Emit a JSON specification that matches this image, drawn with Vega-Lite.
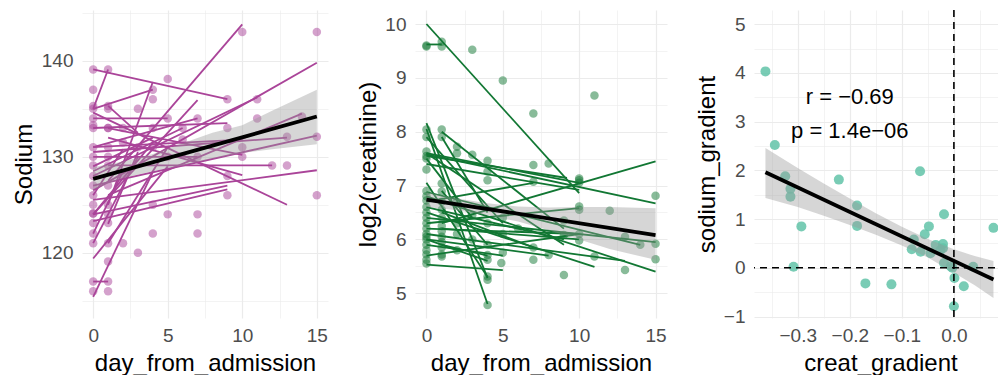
{
  "$schema": "https://vega.github.io/schema/vega-lite/v6.json",
  "padding": {"left": 12, "top": 3, "right": 0, "bottom": 0},
  "spacing": 28,
  "config": {
    "view": {"stroke": null},
    "font": "Liberation Sans",
    "axis": {
      "domain": false, "ticks": false, "gridColor": "#EBEBEB",
      "labelColor": "#4D4D4D", "labelFontSize": 19, "labelFont": "Liberation Sans",
      "titleFontSize": 24, "titleFontWeight": "normal", "titleColor": "#000000", "titleFont": "Liberation Sans",
      "labelPadding": 9, "titlePadding": 5, "labelFlush": false, "labelOverlap": false
    },
    "axisX": {"labelPadding": 8, "titlePadding": 6}
  },
  "datasets": {
    "p1pts": [
      {"day":0,"v":139.1},{"day":0,"v":137.0},{"day":0,"v":135.0},{"day":0,"v":135.3},{"day":0,"v":134.0},{"day":0,"v":133.0},{"day":0,"v":133.3},{"day":0,"v":131.0},{"day":0,"v":130.0},{"day":0,"v":129.1},{"day":0,"v":128.0},{"day":0,"v":127.0},{"day":0,"v":126.0},{"day":0,"v":125.0},{"day":0,"v":124.1},{"day":0,"v":124.1},{"day":0,"v":123.1},{"day":0,"v":122.0},{"day":0,"v":121.0},{"day":0,"v":117.0},{"day":0,"v":116.0},
      {"day":1,"v":139.1},{"day":1,"v":135.0},{"day":1,"v":135.3},{"day":1,"v":133.0},{"day":1,"v":133.0},{"day":1,"v":131.0},{"day":1,"v":130.0},{"day":1,"v":129.1},{"day":1,"v":127.0},{"day":1,"v":125.0},{"day":1,"v":124.0},{"day":1,"v":123.1},{"day":1,"v":121.0},{"day":1,"v":119.1},{"day":1,"v":117.0},{"day":1,"v":116.0},
      {"day":2,"v":133.0},{"day":2,"v":131.5},{"day":2,"v":128.0},{"day":2,"v":121.0},
      {"day":3,"v":135.0},{"day":3,"v":131.0},{"day":3,"v":120.0},
      {"day":4,"v":137.0},{"day":4,"v":136.0},{"day":4,"v":133.0},{"day":4,"v":131.0},{"day":4,"v":125.0},{"day":4,"v":122.0},
      {"day":5,"v":138.1},{"day":5,"v":134.0},{"day":5,"v":130.0},{"day":5,"v":124.0},
      {"day":6,"v":133.0},{"day":6,"v":131.8},
      {"day":7,"v":134.0},{"day":7,"v":130.0},{"day":7,"v":124.0},{"day":7,"v":122.0},
      {"day":9,"v":136.0},{"day":9,"v":133.0},{"day":9,"v":128.0},{"day":9,"v":126.0},
      {"day":10,"v":143.0},{"day":10,"v":131.0},{"day":10,"v":130.0},
      {"day":11,"v":136.0},{"day":11,"v":134.0},
      {"day":12,"v":129.1},
      {"day":13,"v":129.1},{"day":13,"v":132.1},
      {"day":14,"v":134.2},
      {"day":15,"v":143.0},{"day":15,"v":132.1},{"day":15,"v":126.0}
    ],
    "p1seg": [
      {"x1":0,"y1":139.1,"x2":9,"y2":136.0},{"x1":0,"y1":135.0,"x2":1,"y2":139.1},{"x1":0,"y1":135.0,"x2":4,"y2":137.0},
      {"x1":0,"y1":134.0,"x2":5,"y2":134.0},{"x1":1,"y1":127.5,"x2":10,"y2":143.8},{"x1":0,"y1":126.5,"x2":15,"y2":139.8},
      {"x1":0,"y1":128.0,"x2":11,"y2":136.2},{"x1":1,"y1":126.0,"x2":14,"y2":134.5},{"x1":0,"y1":127.0,"x2":15,"y2":132.2},
      {"x1":0,"y1":134.6,"x2":13,"y2":125.0},{"x1":0,"y1":125.5,"x2":15,"y2":128.6},{"x1":0,"y1":124.0,"x2":9,"y2":127.0},
      {"x1":0,"y1":123.3,"x2":9,"y2":126.6},{"x1":0,"y1":115.4,"x2":4,"y2":128.4},{"x1":0,"y1":119.4,"x2":5,"y2":129.0},
      {"x1":0,"y1":117.0,"x2":1,"y2":117.0},{"x1":0,"y1":121.0,"x2":3,"y2":130.0},{"x1":0,"y1":124.0,"x2":4,"y2":131.5},
      {"x1":1,"y1":121.0,"x2":5,"y2":131.0},{"x1":0,"y1":131.0,"x2":10,"y2":131.8},{"x1":0,"y1":133.0,"x2":9,"y2":133.5},
      {"x1":1,"y1":133.0,"x2":10,"y2":130.2},{"x1":0,"y1":130.0,"x2":7,"y2":130.0},{"x1":1,"y1":129.1,"x2":12,"y2":129.1},
      {"x1":0,"y1":129.0,"x2":4,"y2":132.0},{"x1":0,"y1":131.0,"x2":7,"y2":134.0},{"x1":1,"y1":132.0,"x2":10,"y2":128.1},
      {"x1":0,"y1":122.0,"x2":2,"y2":128.5},{"x1":1,"y1":123.0,"x2":3,"y2":130.5},{"x1":0,"y1":124.0,"x2":7,"y2":135.9},
      {"x1":1,"y1":125.0,"x2":4,"y2":137.8},{"x1":0,"y1":128.5,"x2":6,"y2":133.0},{"x1":0,"y1":126.0,"x2":2,"y2":130.8},
      {"x1":1,"y1":135.3,"x2":3,"y2":132.5},{"x1":0,"y1":130.5,"x2":13,"y2":132.0}
    ],
    "p1band": [
      {"day":0,"lo":126.6,"hi":128.9},{"day":2,"lo":127.8,"hi":129.5},{"day":4,"lo":128.5,"hi":130.3},{"day":6,"lo":129.1,"hi":131.4},
      {"day":8,"lo":129.8,"hi":132.5},{"day":10,"lo":130.4,"hi":133.3},{"day":12,"lo":130.8,"hi":134.8},{"day":15,"lo":131.3,"hi":137.0}
    ],
    "p1fit": [{"day":0,"v":127.7},{"day":15,"v":134.2}],
    "p2pts": [
      {"day":0,"v":9.6},{"day":0,"v":9.58},{"day":0,"v":8.04},{"day":0,"v":7.9},{"day":0,"v":7.63},{"day":0,"v":7.55},{"day":0,"v":7.5},{"day":0,"v":7.3},{"day":0,"v":6.9},{"day":0,"v":6.8},{"day":0,"v":6.72},{"day":0,"v":6.6},{"day":0,"v":6.5},{"day":0,"v":6.4},{"day":0,"v":6.3},{"day":0,"v":6.2},{"day":0,"v":6.1},{"day":0,"v":6.05},{"day":0,"v":6.0},{"day":0,"v":5.9},{"day":0,"v":5.8},{"day":0,"v":5.72},{"day":0,"v":5.62},{"day":0,"v":5.55},
      {"day":1,"v":9.67},{"day":1,"v":9.58},{"day":1,"v":8.04},{"day":1,"v":7.9},{"day":1,"v":7.04},{"day":1,"v":6.89},{"day":1,"v":6.7},{"day":1,"v":6.55},{"day":1,"v":6.4},{"day":1,"v":6.25},{"day":1,"v":6.15},{"day":1,"v":6.05},{"day":1,"v":5.95},{"day":1,"v":5.85},{"day":1,"v":5.72},{"day":1,"v":5.68},
      {"day":2,"v":7.72},{"day":2,"v":7.6},{"day":2,"v":6.7},{"day":2,"v":6.3},{"day":2,"v":6.1},{"day":2,"v":5.8},
      {"day":3,"v":9.52},{"day":3,"v":7.57},{"day":3,"v":6.45},{"day":3,"v":6.0},
      {"day":4,"v":7.46},{"day":4,"v":7.26},{"day":4,"v":7.1},{"day":4,"v":6.3},{"day":4,"v":5.9},{"day":4,"v":5.71},{"day":4,"v":5.62},{"day":4,"v":5.31},{"day":4,"v":5.25},{"day":4,"v":4.78},
      {"day":5,"v":8.95},{"day":5,"v":6.4},{"day":5,"v":6.1},{"day":5,"v":5.75},{"day":4.9,"v":5.56},
      {"day":6,"v":6.2},
      {"day":7,"v":8.34},{"day":7,"v":7.38},{"day":7,"v":7.07},{"day":7,"v":5.85},{"day":7,"v":5.62},
      {"day":8,"v":7.41},{"day":8,"v":5.71},
      {"day":9,"v":6.35},{"day":9,"v":6.08},{"day":9,"v":5.34},
      {"day":10,"v":7.13},{"day":10,"v":7.1},{"day":10,"v":7.05},{"day":10,"v":6.61},{"day":10,"v":6.55},{"day":10,"v":6.1},{"day":10,"v":5.98},
      {"day":11,"v":8.67},{"day":11,"v":5.68},
      {"day":12,"v":6.53},
      {"day":13,"v":6.05},{"day":13,"v":5.43},
      {"day":14,"v":5.9},
      {"day":15,"v":6.81},{"day":15,"v":5.92},{"day":15,"v":5.63}
    ],
    "p2seg": [
      {"x1":0,"y1":10.0,"x2":10,"y2":6.86},{"x1":0,"y1":9.62,"x2":1,"y2":9.62},{"x1":0,"y1":8.16,"x2":4,"y2":5.28},
      {"x1":0,"y1":8.05,"x2":4,"y2":4.8},{"x1":0,"y1":7.6,"x2":10,"y2":7.05},{"x1":0,"y1":7.55,"x2":9.2,"y2":7.14},
      {"x1":1,"y1":6.3,"x2":15,"y2":7.45},{"x1":0,"y1":7.58,"x2":15,"y2":6.67},{"x1":0,"y1":6.88,"x2":14,"y2":5.9},
      {"x1":0,"y1":6.8,"x2":15,"y2":5.4},{"x1":0,"y1":6.5,"x2":11,"y2":5.49},{"x1":0,"y1":5.53,"x2":5,"y2":5.43},
      {"x1":0,"y1":6.3,"x2":10,"y2":6.58},{"x1":0,"y1":7.05,"x2":4,"y2":5.3},{"x1":1,"y1":6.9,"x2":4,"y2":5.9},
      {"x1":0,"y1":6.6,"x2":9,"y2":6.0},{"x1":0,"y1":6.2,"x2":10,"y2":6.1},{"x1":0,"y1":6.1,"x2":13,"y2":5.6},
      {"x1":0,"y1":6.0,"x2":8,"y2":5.7},{"x1":0,"y1":5.9,"x2":5,"y2":5.7},{"x1":1,"y1":6.5,"x2":7,"y2":5.85},
      {"x1":0,"y1":7.6,"x2":9,"y2":5.9},{"x1":1,"y1":8.0,"x2":9,"y2":6.2},{"x1":0,"y1":7.9,"x2":5,"y2":6.3},
      {"x1":0,"y1":6.0,"x2":4,"y2":5.6},{"x1":1,"y1":6.2,"x2":10,"y2":6.0},{"x1":0,"y1":5.7,"x2":10,"y2":6.1},
      {"x1":0,"y1":6.7,"x2":7,"y2":7.05},{"x1":0,"y1":7.4,"x2":10,"y2":6.92},{"x1":0,"y1":7.5,"x2":3,"y2":6.4},
      {"x1":1,"y1":7.9,"x2":4,"y2":6.5},{"x1":0,"y1":6.4,"x2":15,"y2":5.95},{"x1":1,"y1":5.9,"x2":4,"y2":5.7}
    ],
    "p2band": [
      {"day":0,"lo":6.60,"hi":6.88},{"day":2,"lo":6.54,"hi":6.76},{"day":4,"lo":6.45,"hi":6.67},{"day":6,"lo":6.33,"hi":6.61},
      {"day":8,"lo":6.17,"hi":6.59},{"day":10,"lo":6.0,"hi":6.6},{"day":12,"lo":5.82,"hi":6.6},{"day":15,"lo":5.62,"hi":6.58}
    ],
    "p2fit": [{"day":0,"v":6.74},{"day":15,"v":6.08}],
    "p3pts": [
      {"cg":-0.362,"sg":4.03},{"cg":-0.344,"sg":2.52},{"cg":-0.324,"sg":1.88},{"cg":-0.314,"sg":1.62},{"cg":-0.314,"sg":1.46},
      {"cg":-0.293,"sg":0.85},{"cg":-0.308,"sg":0.02},{"cg":-0.221,"sg":1.81},{"cg":-0.186,"sg":1.28},{"cg":-0.186,"sg":0.86},
      {"cg":-0.170,"sg":-0.32},{"cg":-0.120,"sg":-0.34},{"cg":-0.065,"sg":1.98},{"cg":-0.019,"sg":1.10},{"cg":-0.048,"sg":0.85},
      {"cg":-0.056,"sg":0.69},{"cg":-0.077,"sg":0.58},{"cg":-0.081,"sg":0.38},{"cg":-0.064,"sg":0.33},{"cg":-0.045,"sg":0.30},
      {"cg":-0.035,"sg":0.47},{"cg":-0.021,"sg":0.49},{"cg":-0.021,"sg":0.40},{"cg":-0.026,"sg":0.36},{"cg":-0.019,"sg":0.10},
      {"cg":-0.006,"sg":0.03},{"cg":0.001,"sg":-0.21},{"cg":0.019,"sg":-0.38},{"cg":0.037,"sg":0.02},{"cg":0.076,"sg":0.82},
      {"cg":0.0,"sg":-0.79},{"cg":-0.003,"sg":0.0}
    ],
    "p3band": [
      {"cg":-0.362,"lo":1.43,"hi":2.46},{"cg":-0.3,"lo":1.25,"hi":2.05},{"cg":-0.25,"lo":1.07,"hi":1.73},{"cg":-0.2,"lo":0.88,"hi":1.42},
      {"cg":-0.15,"lo":0.68,"hi":1.12},{"cg":-0.1,"lo":0.46,"hi":0.84},{"cg":-0.05,"lo":0.21,"hi":0.59},{"cg":0.0,"lo":-0.10,"hi":0.38},
      {"cg":0.04,"lo":-0.36,"hi":0.24},{"cg":0.076,"lo":-0.62,"hi":0.14}
    ],
    "p3fit": [{"cg":-0.362,"sg":1.96},{"cg":0.076,"sg":-0.24}],
    "p3text": [{"cg":-0.2,"sg":3.5,"label":"r = −0.69"},{"cg":-0.2,"sg":2.8,"label":"p = 1.4e−06"}],
    "zero": [{"v":0}]
  },
  "hconcat": [
    {
      "width": 246, "height": 308,
      "layer": [
        {"data": {"name": "p1pts"}, "mark": {"type": "circle", "size": 72, "opacity": 0.5, "color": "#AA4499", "clip": true},
         "encoding": {
           "x": {"field": "day", "type": "quantitative", "title": "day_from_admission",
                 "scale": {"domain": [-0.75, 15.75], "nice": false, "zero": false},
                 "axis": {"values": [0, 2.5, 5, 7.5, 10, 12.5, 15], "tickCount": 40, "format": ".0f", "labelExpr": "datum.value % 5 == 0 ? datum.label : ''",
                          "gridWidth": {"condition": {"test": "datum.value % 5 != 0", "value": 0.6}, "value": 1.2}}},
           "y": {"field": "v", "type": "quantitative", "title": "Sodium",
                 "scale": {"domain": [113.2, 145.3], "nice": false, "zero": false},
                 "axis": {"values": [115, 120, 125, 130, 135, 140, 145], "tickCount": 40, "format": ".0f", "labelExpr": "datum.value % 10 == 0 ? datum.label : ''",
                          "minExtent": 41, "maxExtent": 41,
                          "gridWidth": {"condition": {"test": "datum.value % 10 != 0", "value": 0.6}, "value": 1.2}}}
         }},
        {"data": {"name": "p1seg"}, "mark": {"type": "rule", "color": "#AA4499", "strokeWidth": 1.8, "clip": true},
         "encoding": {
           "x": {"field": "x1", "type": "quantitative", "title": "day_from_admission"},
           "y": {"field": "y1", "type": "quantitative", "title": "Sodium"},
           "x2": {"field": "x2"}, "y2": {"field": "y2"}
         }},
        {"data": {"name": "p1band"}, "mark": {"type": "area", "color": "#999999", "opacity": 0.4, "clip": true},
         "encoding": {
           "x": {"field": "day", "type": "quantitative", "title": "day_from_admission"},
           "y": {"field": "lo", "type": "quantitative", "title": "Sodium"},
           "y2": {"field": "hi"}
         }},
        {"data": {"name": "p1fit"}, "mark": {"type": "line", "color": "#000000", "strokeWidth": 3.8, "clip": true},
         "encoding": {
           "x": {"field": "day", "type": "quantitative", "title": "day_from_admission"},
           "y": {"field": "v", "type": "quantitative", "title": "Sodium"}
         }}
      ]
    },
    {
      "width": 252, "height": 308,
      "layer": [
        {"data": {"name": "p2pts"}, "mark": {"type": "circle", "size": 72, "opacity": 0.5, "color": "#117733", "clip": true},
         "encoding": {
           "x": {"field": "day", "type": "quantitative", "title": "day_from_admission",
                 "scale": {"domain": [-0.75, 15.75], "nice": false, "zero": false},
                 "axis": {"values": [0, 2.5, 5, 7.5, 10, 12.5, 15], "tickCount": 40, "format": ".0f", "labelExpr": "datum.value % 5 == 0 ? datum.label : ''",
                          "gridWidth": {"condition": {"test": "datum.value % 5 != 0", "value": 0.6}, "value": 1.2}}},
           "y": {"field": "v", "type": "quantitative", "title": "log2(creatinine)",
                 "scale": {"domain": [4.54, 10.26], "nice": false, "zero": false},
                 "axis": {"values": [5, 5.5, 6, 6.5, 7, 7.5, 8, 8.5, 9, 9.5, 10], "tickCount": 40, "format": ".0f", "labelExpr": "datum.value % 1 == 0 ? datum.label : ''",
                          "minExtent": 30, "maxExtent": 30,
                          "gridWidth": {"condition": {"test": "datum.value % 1 != 0", "value": 0.6}, "value": 1.2}}}
         }},
        {"data": {"name": "p2seg"}, "mark": {"type": "rule", "color": "#117733", "strokeWidth": 1.8, "clip": true},
         "encoding": {
           "x": {"field": "x1", "type": "quantitative", "title": "day_from_admission"},
           "y": {"field": "y1", "type": "quantitative", "title": "log2(creatinine)"},
           "x2": {"field": "x2"}, "y2": {"field": "y2"}
         }},
        {"data": {"name": "p2band"}, "mark": {"type": "area", "color": "#999999", "opacity": 0.4, "clip": true},
         "encoding": {
           "x": {"field": "day", "type": "quantitative", "title": "day_from_admission"},
           "y": {"field": "lo", "type": "quantitative", "title": "log2(creatinine)"},
           "y2": {"field": "hi"}
         }},
        {"data": {"name": "p2fit"}, "mark": {"type": "line", "color": "#000000", "strokeWidth": 3.8, "clip": true},
         "encoding": {
           "x": {"field": "day", "type": "quantitative", "title": "day_from_admission"},
           "y": {"field": "v", "type": "quantitative", "title": "log2(creatinine)"}
         }}
      ]
    },
    {
      "width": 253, "height": 308,
      "layer": [
        {"data": {"name": "p3pts"}, "mark": {"type": "circle", "size": 100, "opacity": 0.85, "color": "#62C3A8", "clip": true},
         "encoding": {
           "x": {"field": "cg", "type": "quantitative", "title": "creat_gradient",
                 "scale": {"domain": [-0.384, 0.102], "nice": false, "zero": false},
                 "axis": {"values": [-0.35, -0.3, -0.25, -0.2, -0.15, -0.1, -0.05, 0, 0.05], "tickCount": 40, "format": ".1f",
                          "labelExpr": "indexof([-0.3, -0.2, -0.1, 0], datum.value) >= 0 ? datum.label : ''",
                          "gridWidth": {"condition": {"test": "indexof([-0.3, -0.2, -0.1, 0], datum.value) < 0", "value": 0.6}, "value": 1.2}}},
           "y": {"field": "sg", "type": "quantitative", "title": "sodium_gradient",
                 "scale": {"domain": [-1.03, 5.29], "nice": false, "zero": false},
                 "axis": {"values": [-1, -0.5, 0, 0.5, 1, 1.5, 2, 2.5, 3, 3.5, 4, 4.5, 5], "tickCount": 40, "format": ".0f", "labelExpr": "datum.value % 1 == 0 ? datum.label : ''",
                          "minExtent": 30, "maxExtent": 30,
                          "gridWidth": {"condition": {"test": "datum.value % 1 != 0", "value": 0.6}, "value": 1.2}}}
         }},
        {"data": {"name": "p3band"}, "mark": {"type": "area", "color": "#999999", "opacity": 0.4, "clip": true},
         "encoding": {
           "x": {"field": "cg", "type": "quantitative", "title": "creat_gradient"},
           "y": {"field": "lo", "type": "quantitative", "title": "sodium_gradient"},
           "y2": {"field": "hi"}
         }},
        {"data": {"name": "p3fit"}, "mark": {"type": "line", "color": "#000000", "strokeWidth": 3.8, "clip": true},
         "encoding": {
           "x": {"field": "cg", "type": "quantitative", "title": "creat_gradient"},
           "y": {"field": "sg", "type": "quantitative", "title": "sodium_gradient"}
         }},
        {"data": {"name": "zero"}, "mark": {"type": "rule", "color": "#000000", "strokeWidth": 1.6, "strokeDash": [7, 5], "clip": true},
         "encoding": {"x": {"field": "v", "type": "quantitative", "title": "creat_gradient"}}},
        {"data": {"name": "zero"}, "mark": {"type": "rule", "color": "#000000", "strokeWidth": 1.6, "strokeDash": [7, 5], "clip": true},
         "encoding": {"y": {"field": "v", "type": "quantitative", "title": "sodium_gradient"}}},
        {"data": {"name": "p3text"}, "mark": {"type": "text", "fontSize": 22, "color": "#000000", "align": "center", "baseline": "middle", "font": "Liberation Sans"},
         "encoding": {
           "x": {"field": "cg", "type": "quantitative", "title": "creat_gradient"},
           "y": {"field": "sg", "type": "quantitative", "title": "sodium_gradient"},
           "text": {"field": "label"}
         }}
      ]
    }
  ]
}
